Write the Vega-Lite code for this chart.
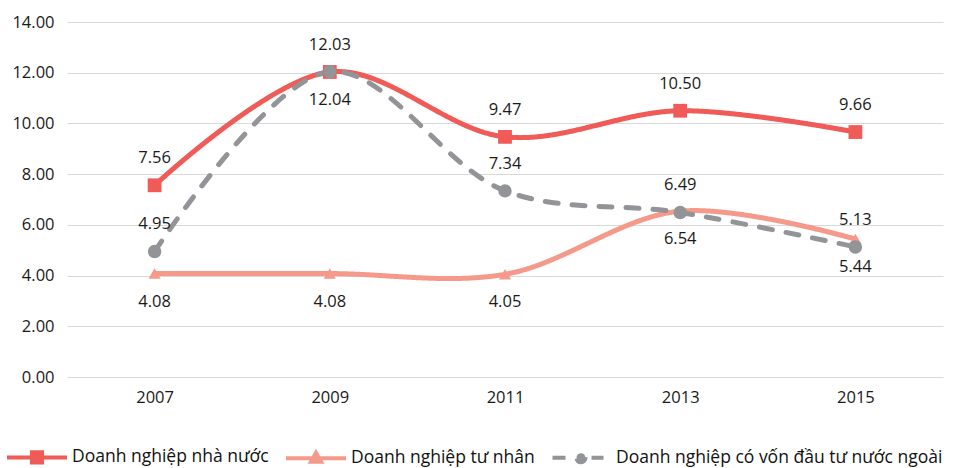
{
  "$schema": "https://vega.github.io/schema/vega-lite/v6.json",
  "autosize": "none",
  "width": 876,
  "height": 355,
  "padding": {"left": 67, "top": 22, "right": 22, "bottom": 91},
  "background": "white",
  "config": {"view": {"stroke": null}, "font": "Open Sans"},
  "data": {"values": [
    {"year": "2007", "series": "Doanh nghiệp nhà nước", "value": 7.56},
    {"year": "2009", "series": "Doanh nghiệp nhà nước", "value": 12.03},
    {"year": "2011", "series": "Doanh nghiệp nhà nước", "value": 9.47},
    {"year": "2013", "series": "Doanh nghiệp nhà nước", "value": 10.50},
    {"year": "2015", "series": "Doanh nghiệp nhà nước", "value": 9.66},
    {"year": "2007", "series": "Doanh nghiệp tư nhân", "value": 4.08},
    {"year": "2009", "series": "Doanh nghiệp tư nhân", "value": 4.08},
    {"year": "2011", "series": "Doanh nghiệp tư nhân", "value": 4.05},
    {"year": "2013", "series": "Doanh nghiệp tư nhân", "value": 6.54},
    {"year": "2015", "series": "Doanh nghiệp tư nhân", "value": 5.44},
    {"year": "2007", "series": "Doanh nghiệp có vốn đầu tư nước ngoài", "value": 4.95},
    {"year": "2009", "series": "Doanh nghiệp có vốn đầu tư nước ngoài", "value": 12.04},
    {"year": "2011", "series": "Doanh nghiệp có vốn đầu tư nước ngoài", "value": 7.34},
    {"year": "2013", "series": "Doanh nghiệp có vốn đầu tư nước ngoài", "value": 6.49},
    {"year": "2015", "series": "Doanh nghiệp có vốn đầu tư nước ngoài", "value": 5.13}
  ]},
  "encoding": {
    "x": {"field": "year", "type": "ordinal", "scale": {"type": "point", "padding": 0.5},
      "axis": {"title": null, "labelAngle": 0, "domain": false, "ticks": false, "grid": false, "labelPadding": 12, "labelFontSize": 16.5, "labelColor": "#1a1a1a", "labelFont": "Open Sans"}},
    "y": {"field": "value", "type": "quantitative", "scale": {"domain": [0, 14], "nice": false},
      "axis": {"title": null, "values": [0, 2, 4, 6, 8, 10, 12, 14], "format": ".2f", "domain": false, "ticks": false, "labelPadding": 13, "labelFontSize": 16.5, "labelColor": "#1a1a1a", "labelFont": "Open Sans", "gridColor": "#d9d9d9", "gridWidth": 1}}
  },
  "layer": [
    {
      "mark": {"type": "point", "size": 0, "strokeWidth": 4},
      "encoding": {
        "fill": {"field": "series", "type": "nominal",
          "scale": {"domain": ["Doanh nghiệp nhà nước", "Doanh nghiệp tư nhân", "Doanh nghiệp có vốn đầu tư nước ngoài"], "range": ["#F05A57", "#F59A8A", "#929497"]},
          "legend": {"orient": "none", "legendX": -62, "legendY": 403, "direction": "horizontal", "title": null,
            "symbolSize": 3600, "symbolStrokeWidth": 4, "symbolOpacity": 1, "labelFontSize": 17.5, "labelFont": "Open Sans", "labelColor": "#111111", "labelOffset": 3, "columnPadding": 9, "labelLimit": 500}},
        "stroke": {"field": "series", "type": "nominal",
          "scale": {"domain": ["Doanh nghiệp nhà nước", "Doanh nghiệp tư nhân", "Doanh nghiệp có vốn đầu tư nước ngoài"], "range": ["#F05A57", "#F59A8A", "#929497"]},
          "legend": {"orient": "none", "legendX": -62, "legendY": 403, "direction": "horizontal", "title": null,
            "symbolSize": 3600, "symbolStrokeWidth": 4, "symbolOpacity": 1, "labelFontSize": 17.5, "labelFont": "Open Sans", "labelColor": "#111111", "labelOffset": 3, "columnPadding": 9, "labelLimit": 500}},
        "shape": {"field": "series", "type": "nominal",
          "scale": {"domain": ["Doanh nghiệp nhà nước", "Doanh nghiệp tư nhân", "Doanh nghiệp có vốn đầu tư nước ngoài"],
            "range": ["M-1,0H1M-0.17,-0.17H0.17V0.17H-0.17Z", "M-1,0H1M0,-0.18L0.17,0.12H-0.17Z", "M-0.95,0H-0.15M0.35,0H0.75M0.15,0A0.15,0.15,0,1,1,-0.15,0A0.15,0.15,0,1,1,0.15,0Z"]},
          "legend": {"orient": "none", "legendX": -62, "legendY": 403, "direction": "horizontal", "title": null,
            "symbolSize": 3600, "symbolStrokeWidth": 4, "symbolOpacity": 1, "labelFontSize": 17.5, "labelFont": "Open Sans", "labelColor": "#111111", "labelOffset": 3, "columnPadding": 9, "labelLimit": 500}}
      }
    },
    {
      "mark": {"type": "line", "interpolate": "catmull-rom", "strokeWidth": 5, "strokeCap": "round"},
      "encoding": {
        "color": {"field": "series", "type": "nominal", "legend": null,
          "scale": {"domain": ["Doanh nghiệp nhà nước", "Doanh nghiệp tư nhân", "Doanh nghiệp có vốn đầu tư nước ngoài"], "range": ["#F05A57", "#F59A8A", "#929497"]}},
        "strokeDash": {"field": "series", "type": "nominal", "legend": null,
          "scale": {"domain": ["Doanh nghiệp nhà nước", "Doanh nghiệp tư nhân", "Doanh nghiệp có vốn đầu tư nước ngoài"], "range": [[1, 0], [1, 0], [13, 14]]}}
      }
    },
    {
      "transform": [{"filter": "datum.series === 'Doanh nghiệp nhà nước'"}],
      "mark": {"type": "point", "filled": true, "opacity": 1, "shape": "square", "size": 190, "color": "#F05A57"}
    },
    {
      "transform": [{"filter": "datum.series === 'Doanh nghiệp tư nhân'"}],
      "mark": {"type": "point", "filled": true, "opacity": 1, "shape": "triangle-up", "size": 150, "color": "#F59A8A"}
    },
    {
      "transform": [{"filter": "datum.series === 'Doanh nghiệp có vốn đầu tư nước ngoài'"}],
      "mark": {"type": "point", "filled": true, "opacity": 1, "shape": "circle", "size": 180, "color": "#929497"}
    },
    {
      "transform": [{"filter": "datum.series !== 'Doanh nghiệp tư nhân' && !(datum.series === 'Doanh nghiệp có vốn đầu tư nước ngoài' && datum.year === '2009')"}],
      "mark": {"type": "text", "dy": -27, "fontSize": 16.5, "font": "Open Sans", "color": "#1a1a1a"},
      "encoding": {"text": {"field": "value", "type": "quantitative", "format": ".2f"}}
    },
    {
      "transform": [{"filter": "datum.series === 'Doanh nghiệp tư nhân' || (datum.series === 'Doanh nghiệp có vốn đầu tư nước ngoài' && datum.year === '2009')"}],
      "mark": {"type": "text", "dy": 28, "fontSize": 16.5, "font": "Open Sans", "color": "#1a1a1a"},
      "encoding": {"text": {"field": "value", "type": "quantitative", "format": ".2f"}}
    }
  ]
}
